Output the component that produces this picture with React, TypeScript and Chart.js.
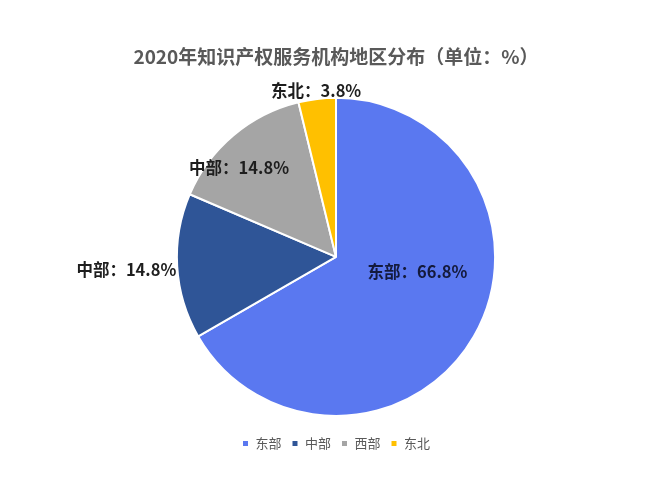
import React, { useEffect, useRef } from 'react';
import { Chart, registerables } from 'chart.js';

Chart.register(...registerables);

const categories = ['东部', '中部', '西部', '东北'];
const values = [66.8, 14.8, 14.8, 3.8];
const sliceLabels = ['东部：66.8%', '中部：14.8%', '中部：14.8%', '东北：3.8%'];
const colors = ['#5A78F0', '#2F5597', '#A5A5A5', '#FFC000'];
const titleText = '2020年知识产权服务机构地区分布（单位：%）';
// label placement relative to each slice: fraction of radius, angle shift in degrees
const labelRadius = [0.52, 1.32, 0.83, 1.05];
const labelAngleShift = [-20, 0, -7, 0];

const FONT = '"Noto Sans CJK SC", "Noto Sans", sans-serif';

const sliceLabelPlugin = {
  id: 'sliceLabels',
  afterDatasetsDraw(chart: any) {
    const meta = chart.getDatasetMeta(0);
    const ctx = chart.ctx;
    ctx.save();
    ctx.font = `bold 16.5px ${FONT}`;
    ctx.textAlign = 'center';
    ctx.textBaseline = 'middle';
    meta.data.forEach((arc: any, i: number) => {
      const p = arc.getProps(['x', 'y', 'startAngle', 'endAngle', 'outerRadius'], true);
      const mid = (p.startAngle + p.endAngle) / 2 + (labelAngleShift[i] * Math.PI) / 180;
      const r = p.outerRadius * labelRadius[i];
      const x = p.x + Math.cos(mid) * r;
      const y = p.y + Math.sin(mid) * r;
      ctx.fillStyle = i === 0 ? '#141a3c' : '#1e1e1e';
      ctx.fillText(sliceLabels[i], x, y);
    });
    ctx.restore();
  },
};

export default function App() {
  const ref = useRef<HTMLCanvasElement | null>(null);
  useEffect(() => {
    document.body.style.margin = '0';
    if (!ref.current) return;
    const chart = new Chart(ref.current, {
      type: 'pie',
      data: {
        labels: categories,
        datasets: [
          {
            data: values,
            backgroundColor: colors,
            borderColor: '#ffffff',
            borderWidth: 2,
          },
        ],
      },
      options: {
        responsive: false,
        animation: false,
        devicePixelRatio: 1,
        layout: { padding: { top: 0, bottom: 40, left: 10, right: 0 } },
        plugins: {
          title: {
            display: true,
            text: titleText,
            color: '#595959',
            font: { family: FONT, size: 19, weight: 'bold' },
            padding: { top: 45, bottom: 29 },
          },
          legend: {
            display: true,
            position: 'bottom',
            title: {
              display: true,
              text: '',
              font: { family: FONT, size: 10, lineHeight: 1 },
              padding: 0,
            },
            labels: {
              boxWidth: 7,
              boxHeight: 7,
              color: '#595959',
              padding: 10,
              font: { family: FONT, size: 13 },
            },
          },
          tooltip: { enabled: false },
        },
      },
      plugins: [sliceLabelPlugin],
    });
    return () => chart.destroy();
  }, []);
  return (
    <div style={{ width: 662, height: 500, background: '#fff' }}>
      <canvas ref={ref} width={662} height={500} />
    </div>
  );
}
